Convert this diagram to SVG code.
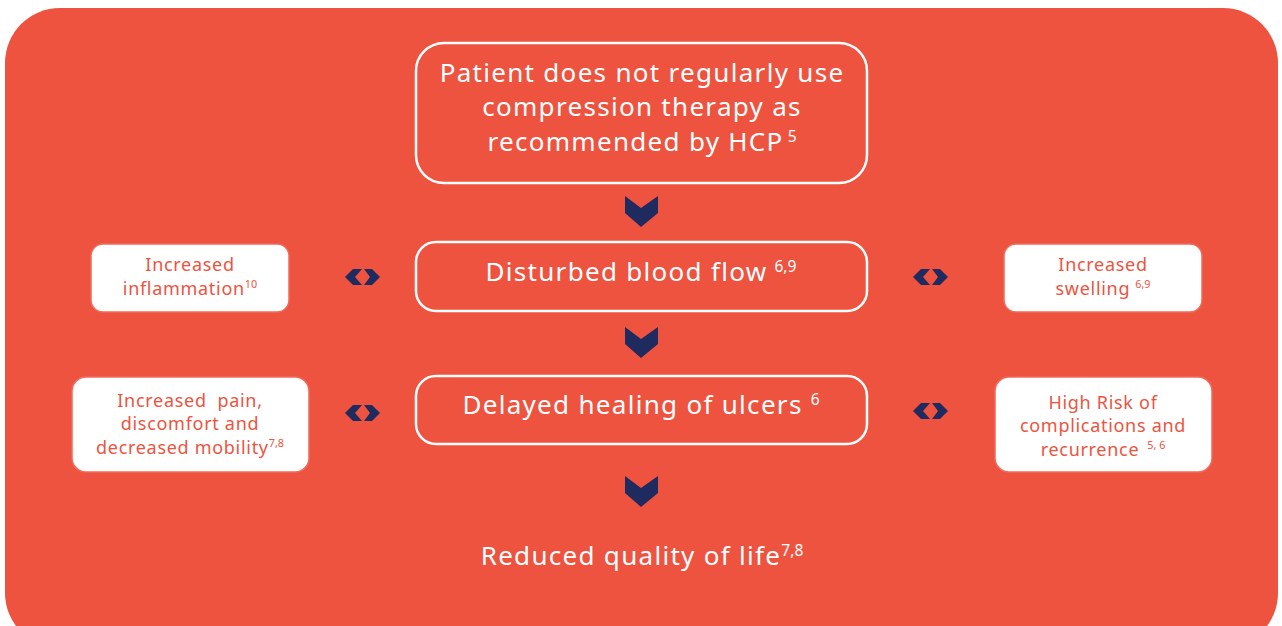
<svg xmlns="http://www.w3.org/2000/svg" width="1282" height="626" viewBox="0 0 1282 626">
<style>
.main{fill:none;stroke:#fff;stroke-width:2.5}
.side{fill:#fff;stroke:#f26a58;stroke-width:1.5}
.wt{font-family:"Noto Sans",sans-serif;font-size:26px;fill:#fff;text-anchor:middle;letter-spacing:1.3px}
.ot{font-family:"Noto Sans",sans-serif;font-size:18px;fill:#ee5340;text-anchor:middle;letter-spacing:0.7px}
.sup{font-size:60%;letter-spacing:0}
.nv{fill:#1f2a5e}
</style>
<defs>
<polygon id="down" points="0,0 16,12 33,0 33,17 16,31 0,17"/>
<g id="dbl"><polygon points="0,8 8,0 17,0 10,8 17,16 8,16"/><polygon points="19,0 27,0 35,8 27,16 19,16 25,8"/></g>
</defs>
<rect x="5" y="8" width="1273" height="640" rx="55" fill="#ee5340"/>
<g id="connectors" class="nv">
<use href="#down" x="625" y="196"/>
<use href="#down" x="625" y="327"/>
<use href="#down" x="625" y="476"/>
<use href="#dbl" x="345" y="269"/>
<use href="#dbl" x="913" y="269"/>
<use href="#dbl" x="345" y="405"/>
<use href="#dbl" x="913" y="403"/>
</g>
<g id="n-patient"><rect class="main" x="416" y="43" width="451" height="140" rx="28"/>
<text class="wt" x="642" y="82">Patient does not regularly use</text>
<text class="wt" x="642" y="116">compression therapy as</text>
<text class="wt" x="642" y="151">recommended by HCP<tspan class="sup" dy="-9" dx="4">5</tspan></text></g>
<g id="n-blood"><rect class="main" x="416" y="242" width="451" height="69" rx="20"/>
<text class="wt" x="641" y="281">Disturbed blood flow<tspan class="sup" dy="-9" dx="7">6,9</tspan></text></g>
<g id="n-delayed"><rect class="main" x="416" y="376" width="451" height="68" rx="20"/>
<text class="wt" x="641" y="414">Delayed healing of ulcers<tspan class="sup" dy="-9" dx="8">6</tspan></text></g>
<g id="n-quality"><text class="wt" x="642" y="565">Reduced quality of life<tspan class="sup" dy="-9">7,8</tspan></text></g>
<g id="n-inflam"><rect class="side" x="91" y="244" width="198" height="68" rx="12"/>
<text class="ot" x="190" y="271">Increased</text>
<text class="ot" x="190" y="295">inflammation<tspan class="sup" dy="-7">10</tspan></text></g>
<g id="n-swell"><rect class="side" x="1004" y="244" width="198" height="68" rx="12"/>
<text class="ot" x="1103" y="271">Increased</text>
<text class="ot" x="1103" y="295">swelling<tspan class="sup" dy="-7" dx="5">6,9</tspan></text></g>
<g id="n-pain"><rect class="side" x="72" y="377" width="237" height="95" rx="14"/>
<text class="ot" x="190" y="407">Increased&#160; pain,</text>
<text class="ot" x="190" y="430">discomfort and</text>
<text class="ot" x="190" y="454">decreased mobility<tspan class="sup" dy="-7">7,8</tspan></text></g>
<g id="n-risk"><rect class="side" x="995" y="377" width="217" height="95" rx="14"/>
<text class="ot" x="1103" y="409">High Risk of</text>
<text class="ot" x="1103" y="432">complications and</text>
<text class="ot" x="1103" y="456">recurrence<tspan class="sup" dy="-7" dx="8">5, 6</tspan></text></g>
</svg>
